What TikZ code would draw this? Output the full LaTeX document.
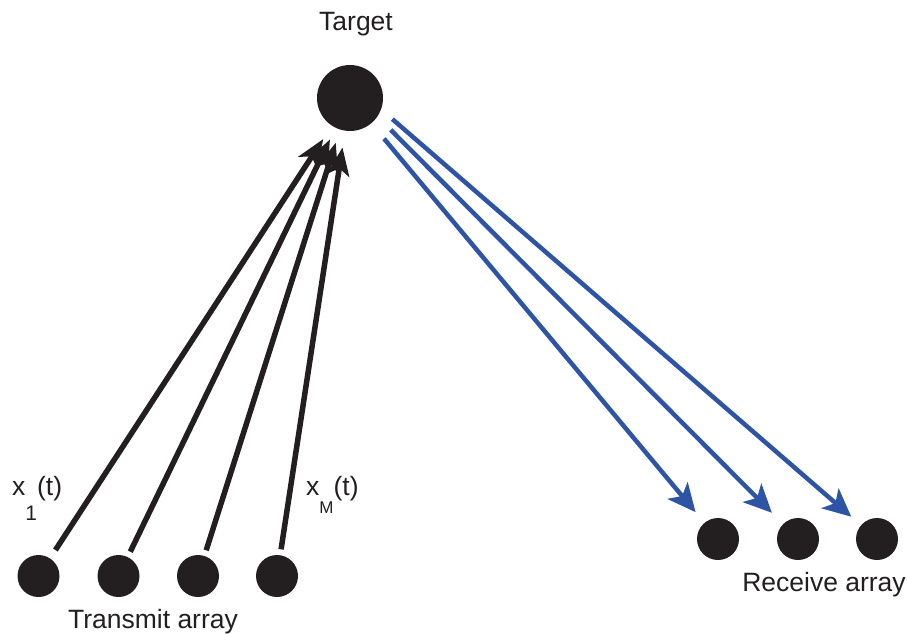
\documentclass[tikz,border=0pt]{standalone}
\usepackage{fontspec}
\setmainfont{Liberation Sans}
\usetikzlibrary{arrows.meta}
\definecolor{ink}{HTML}{231F20}
\definecolor{rxblue}{HTML}{2E55A5}
\tikzset{
  elem/.style={circle, fill=ink, minimum size=42pt, inner sep=0pt, outer sep=0pt},
  tgt/.style={circle, fill=ink, minimum size=66pt, inner sep=0pt, outer sep=0pt},
  txline/.style={draw=ink, line width=5.5pt, -{Stealth[length=28pt,width=22pt,inset=7pt]}},
  rxline/.style={draw=rxblue, line width=4.5pt, -{Stealth[length=28pt,width=26pt,inset=7pt]}},
  lbl/.style={font=\fontsize{26.5}{31}\selectfont, text=ink, inner sep=0pt},
}
\newcommand{\sbx}[3]{\raisebox{#1}{\fontsize{#2}{#2}\selectfont #3}}
\begin{document}
\begin{tikzpicture}[x=1pt,y=-1pt]
\useasboundingbox (0,0) rectangle (907,633);
\node[tgt] (target) at (350,98) {};
\node[lbl, anchor=base] (tlabel) at (356,30) {Target};
\node[elem] (t1) at (38.5,576) {};
\node[elem] (t2) at (118.5,576) {};
\node[elem] (t3) at (198,576) {};
\node[elem] (t4) at (277,576) {};
\node[elem] (r1) at (718,539) {};
\node[elem] (r2) at (798,539) {};
\node[elem] (r3) at (877,539) {};
\node[lbl, anchor=base] (txlabel) at (153,628) {Transmit array};
\node[lbl, anchor=base] (rxlabel) at (824,591) {Receive array};
\node[lbl, anchor=base west] (x1) at (12,495) {x\sbx{-25pt}{21}{1}(t)};
\node[lbl, anchor=base west] (xM) at (306,495) {x\sbx{-18pt}{17}{M}(t)};
\draw[txline, shorten <=10pt, shorten >=16pt] (t1) -- (target);
\draw[txline, shorten <=6pt, shorten >=13pt] (t2) -- (target);
\draw[txline, shorten <=6pt, shorten >=14pt] (t3) -- (target);
\draw[txline, shorten <=6pt, shorten >=17pt] (t4) -- (target);
\draw[rxline, shorten <=20pt, shorten >=14pt] (target.-50) -- (r1);
\draw[rxline, shorten <=19pt, shorten >=16pt] (target.-34) -- (r2);
\draw[rxline, shorten <=15pt, shorten >=13pt] (target.-20) -- (r3);
\end{tikzpicture}
\end{document}
